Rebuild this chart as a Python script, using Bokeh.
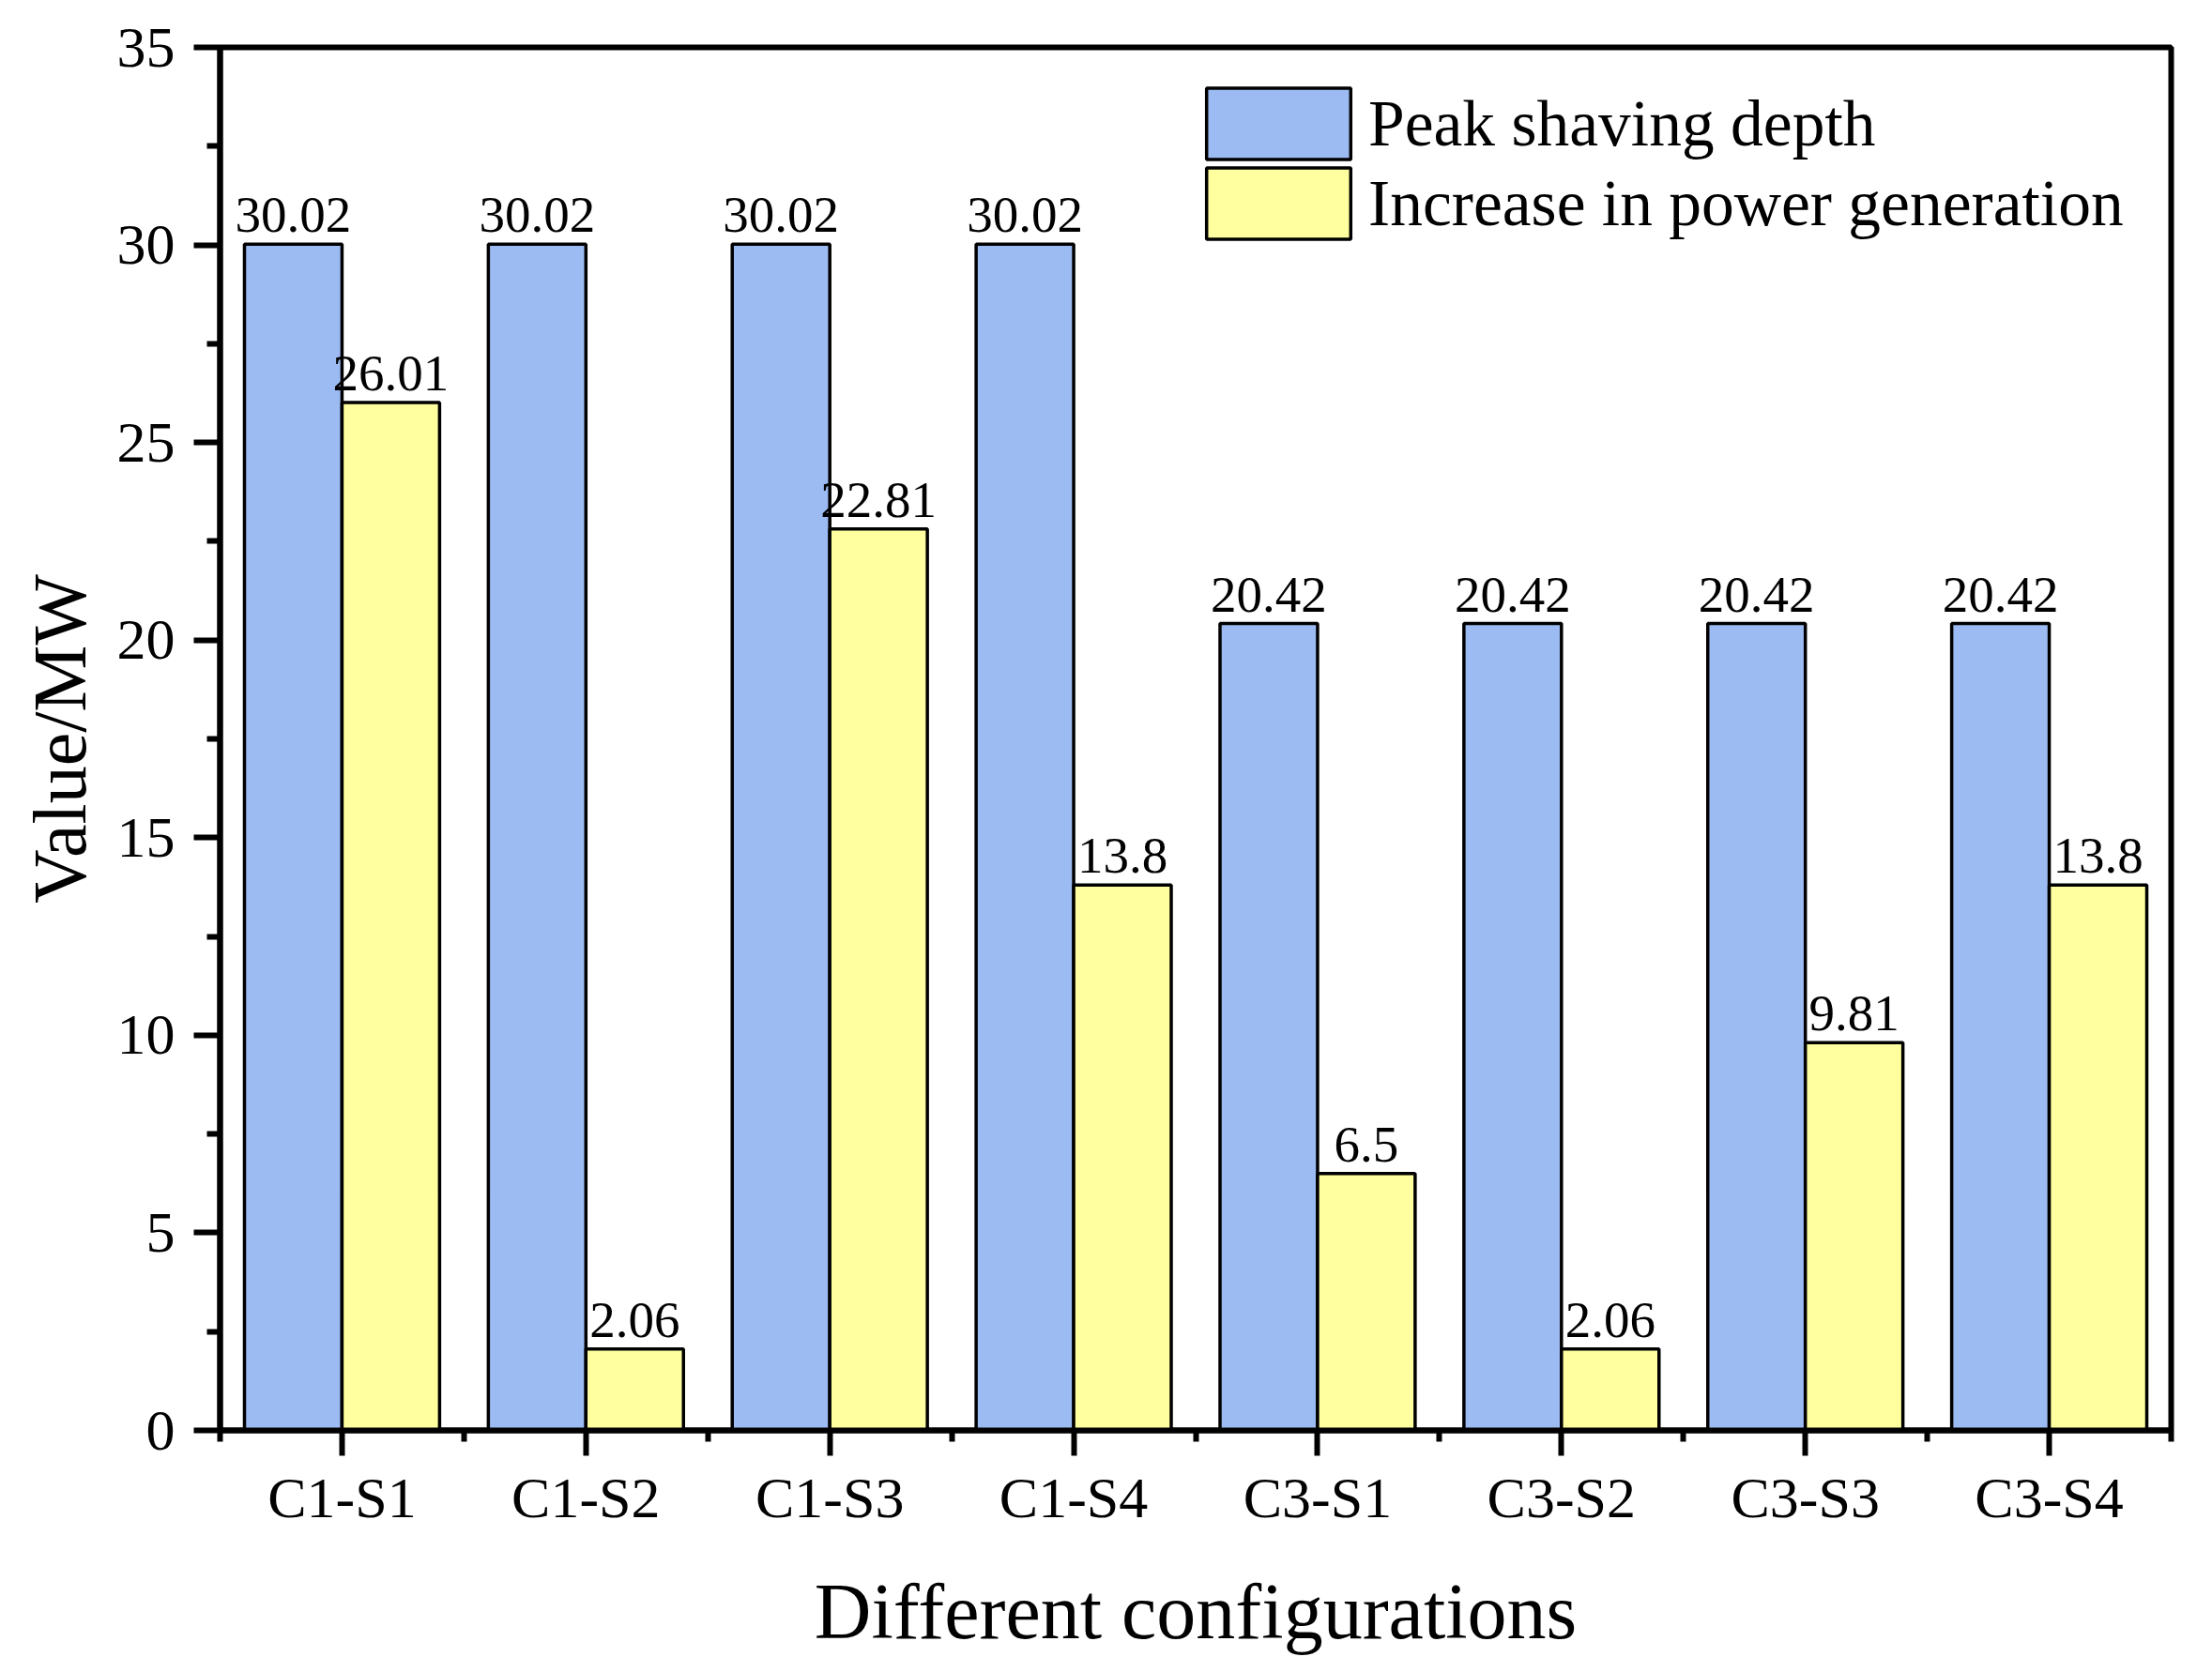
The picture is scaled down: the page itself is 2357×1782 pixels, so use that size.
import numpy as np
from bokeh.plotting import figure
from bokeh.models import (ColumnDataSource, FixedTicker, LabelSet, Legend, LegendItem)
from bokeh.transform import dodge
from bokeh.embed import file_html
from bokeh.resources import INLINE

categories = ["C1-S1", "C1-S2", "C1-S3", "C1-S4", "C3-S1", "C3-S2", "C3-S3", "C3-S4"]
peak_shaving = [30.02, 30.02, 30.02, 30.02, 20.42, 20.42, 20.42, 20.42]
power_increase = [26.01, 2.06, 22.81, 13.8, 6.5, 2.06, 9.81, 13.8]
y_ticks = [0, 5, 10, 15, 20, 25, 30, 35]
series_names = ["Peak shaving depth", "Increase in power generation"]

FONT = "Liberation Serif"
BLUE = "#9DBBF3"
YELLOW = "#FFFF9F"

xpos = list(range(1, len(categories) + 1))
src = ColumnDataSource(dict(
    x=xpos,
    peak=peak_shaving,
    inc=power_increase,
    peak_txt=["{:g}".format(v) for v in peak_shaving],
    inc_txt=["{:g}".format(v) for v in power_increase],
))

p = figure(width=2341, height=1766, output_backend="svg", toolbar_location=None,
           x_range=(0.5, len(categories) + 0.5), y_range=(0, 35),
           min_border_left=234, min_border_right=28, min_border_top=50, min_border_bottom=241)
p.grid.visible = False
p.outline_line_color = "black"
p.outline_line_width = 6

r1 = p.vbar(x=dodge("x", -0.2), top="peak", width=0.4, source=src,
            fill_color=BLUE, line_color="black", line_width=3.5)
r2 = p.vbar(x=dodge("x", 0.2), top="inc", width=0.4, source=src,
            fill_color=YELLOW, line_color="black", line_width=3.5)

for col, txt, off in [("peak", "peak_txt", -0.2), ("inc", "inc_txt", 0.2)]:
    lab = LabelSet(x=dodge("x", off), y=col, text=txt, source=src,
                   text_font=FONT, text_font_size="55px", text_align="center",
                   text_baseline="alphabetic", y_offset=13, text_color="black")
    p.add_layout(lab)

# axes
xa = p.xaxis[0]
xa.ticker = FixedTicker(ticks=xpos, minor_ticks=[v - 0.5 for v in xpos] + [xpos[-1] + 0.5])
xa.major_label_overrides = {x: c for x, c in zip(xpos, categories)}
ya = p.yaxis[0]
ya.ticker = FixedTicker(ticks=y_ticks, minor_ticks=[t + 2.5 for t in y_ticks[:-1]])

for ax in (xa, ya):
    ax.axis_line_width = 6
    ax.axis_line_color = "black"
    ax.major_tick_line_width = 6
    ax.minor_tick_line_width = 6
    ax.major_tick_in = 0
    ax.minor_tick_in = 0
    ax.major_label_text_font = FONT
    ax.major_label_text_font_size = "62px"
    ax.major_label_text_color = "black"
    ax.axis_label_text_font = FONT
    ax.axis_label_text_font_style = "normal"
    ax.axis_label_text_color = "black"

xa.major_tick_out = 27
xa.minor_tick_out = 12
xa.major_label_standoff = 10
xa.axis_label = "Different configurations"
xa.axis_label_text_font_size = "84px"
xa.axis_label_standoff = 38

ya.major_tick_out = 28
ya.minor_tick_out = 14
ya.major_label_standoff = 20
ya.axis_label = "Value/MW"
ya.axis_label_text_font_size = "80px"
ya.axis_label_standoff = 14

for name, rend, loc in [(series_names[0], r1, (1032, 1345)),
                        (series_names[1], r2, (1032, 1260))]:
    legend = Legend(items=[LegendItem(label=name, renderers=[rend])],
                    location=loc, padding=0, margin=0, spacing=0,
                    glyph_width=192, glyph_height=95, label_standoff=-5,
                    label_text_font=FONT, label_text_font_size="69.5px",
                    label_text_color="black",
                    border_line_color=None, background_fill_alpha=0)
    p.add_layout(legend)

open("out.html", "w").write(file_html(p, INLINE))
